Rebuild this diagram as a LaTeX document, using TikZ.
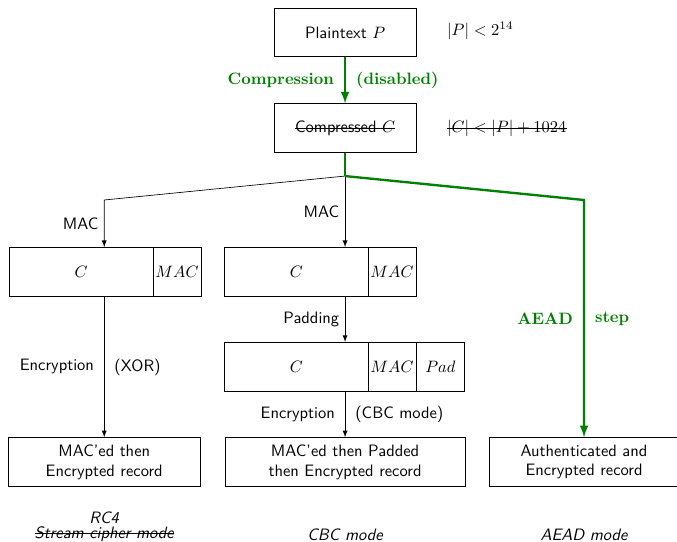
\documentclass[tikz,border=0pt]{standalone}

\newcommand{\strikeout}[1]{\setbox0=\hbox{#1}\rlap{\rule[0.55ex]{\wd0}{0.4pt}}\box0}

\tikzset{
    box/.style = {draw, minimum height = 1.04cm, inner sep = 1pt, font = \sffamily, align = center},
    lbl/.style = {font = \sffamily},
    wlbl/.style = {font = \sffamily, inner sep = 6pt},
    aead/.style = {green!50!black, line width = 0.5mm},
    glbl/.style = {text = green!50!black, font = \bfseries, inner sep = 6pt}
}

\begin{document}
\begin{tikzpicture}[>=latex]

        \useasboundingbox (0.0, 0.0) rectangle (14.42, -11.54);

        % Plaintext and compressed blocks with their lengths.
        \node[box, minimum width = 3.02cm] (plain) at (7.35, -0.69) {Plaintext $P$};
        \node[box, minimum width = 3.02cm] (comp) at (7.35, -2.73) {\strikeout{Compressed $C$}};
        \node[anchor = west] (plen) at (9.40, -0.66) {$|P| < 2^{14}$};
        \node[anchor = west] (clen) at (9.40, -2.73) {\strikeout{$|C| < |P| + 1024$}};

        % Points where the three branches split.
        \coordinate (branch) at (7.35, -3.75);
        \coordinate (lbend) at (2.22, -4.26);
        \coordinate (rbend) at (12.44, -4.26);

        % MAC'ed records for the two left branches.
        \node[box, minimum width = 3.07cm] (lc) at (1.73, -5.79) {$C$};
        \node[box, minimum width = 1.02cm] (lmac) at (3.77, -5.79) {$MAC$};
        \node[box, minimum width = 3.05cm] (mc) at (6.31, -5.79) {$C$};
        \node[box, minimum width = 1.02cm] (mmac) at (8.35, -5.79) {$MAC$};

        % Padded record for the CBC branch.
        \node[box, minimum width = 3.05cm] (pc) at (6.31, -7.81) {$C$};
        \node[box, minimum width = 1.02cm] (pmac) at (8.35, -7.81) {$MAC$};
        \node[box, minimum width = 1.04cm] (ppad) at (9.38, -7.81) {$Pad$};

        % Output records.
        \node[box, minimum width = 4.09cm] (lout) at (2.22, -9.84) {MAC'ed then\\Encrypted record};
        \node[box, minimum width = 5.11cm] (mout) at (7.35, -9.84) {MAC'ed then Padded\\then Encrypted record};
        \node[box, minimum width = 4.04cm] (rout) at (12.44, -9.84) {Authenticated and\\Encrypted record};

        % Mode names under the records.
        \node[lbl, font = \sffamily\itshape] (rc4) at (2.22, -11.02) {RC4};
        \node[lbl, font = \sffamily\itshape] (stream) at (2.22, -11.37) {\strikeout{Stream cipher mode}};
        \node[lbl, font = \sffamily\itshape] (cbc) at (7.35, -11.40) {CBC mode};
        \node[lbl, font = \sffamily\itshape] (aeadmode) at (12.44, -11.40) {AEAD mode};

        % Black arrows for the MAC then encrypt branches.
        \draw[->] (branch) -- (lbend) -- node [lbl, left] {MAC} (lbend |- lc.north);
        \draw[->] (branch) -- node [lbl, left] {MAC} (branch |- mc.north);
        \draw[->] (lbend |- lc.south) -- node [wlbl, left] {Encryption} node [wlbl, right] {(XOR)} (lout);
        \draw[->] (branch |- mc.south) -- node [lbl, left] {Padding} (branch |- pc.north);
        \draw[->] (branch |- pc.south) -- node [wlbl, left] {Encryption} node [wlbl, right] {(CBC mode)} (mout);

        % Green path for compression and the AEAD step.
        \draw[aead, ->] (plain) -- node [glbl, left] {Compression} node [glbl, right] {(disabled)} (comp);
        \draw[aead] (comp) -- (branch);
        \draw[aead, ->] (branch) -- (rbend) -- node [glbl, left] {AEAD} node [glbl, right] {step} (rout);
    \end{tikzpicture}
\end{document}
